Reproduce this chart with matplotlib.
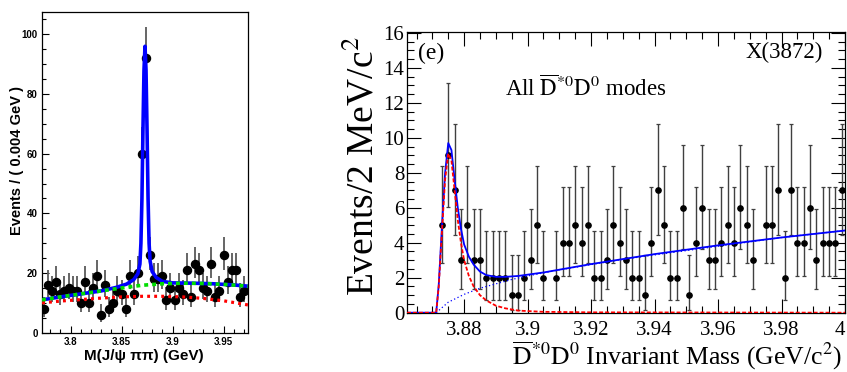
import numpy as np
import matplotlib
matplotlib.use("Agg")
import matplotlib.pyplot as plt
from matplotlib.ticker import MultipleLocator, FormatStrFormatter

plt.rcParams["mathtext.fontset"] = "stix"

# ---- left panel: M(J/psi pi pi), 4 MeV bins ----
jpp_lo = 3.772
jpp_bin = 0.004
jpp_counts = [8, 16, 14, 17, 13, 14, 15, 14, 14, 10,
              17, 10, 15, 19, 6, 16, 8, 10, 14, 13,
              8, 19, 13, 20, 60, 92, 26, 18, 18, 19,
              11, 15, 11, 15, 13, 21, 12, 23, 21, 15,
              14, 23, 12, 14, 26, 17, 21, 21, 12, 14]

jpp_tot_m = [3.772, 3.79, 3.81, 3.83, 3.845, 3.855, 3.862, 3.866, 3.868, 3.869,
             3.870, 3.871, 3.872, 3.873, 3.874, 3.875, 3.876, 3.877, 3.878, 3.880,
             3.884, 3.890, 3.90, 3.92, 3.94, 3.96, 3.974]
jpp_tot_v = [11.0, 12.0, 13.0, 14.0, 15.2, 16.3, 17.8, 19.8, 23, 30,
             45, 68, 88, 96, 88, 68, 45, 30, 24, 20.5,
             18.5, 17.2, 16.7, 16.6, 16.4, 16.0, 15.6]

jpp_bkg_m = [3.772, 3.79, 3.81, 3.83, 3.85, 3.87, 3.89, 3.91, 3.93, 3.95, 3.974]
jpp_bkg_v = [11.0, 12.0, 13.0, 14.0, 15.0, 15.9, 16.4, 16.6, 16.5, 16.2, 15.6]

jpp_bkg2_m = [3.772, 3.79, 3.81, 3.83, 3.85, 3.87, 3.89, 3.91, 3.93, 3.95, 3.974]
jpp_bkg2_v = [10.0, 10.6, 11.1, 11.6, 12.0, 12.2, 12.2, 12.0, 11.5, 10.7, 9.3]

# ---- right panel: D*0bar D0 mass, 2 MeV bins ----
dd_lo = 3.862
dd_bin = 0.002
dd_counts = [0, 0, 0, 0, 0, 5, 9, 7, 3, 5,
             3, 3, 2, 2, 2, 2, 1, 1, 2, 3,
             5, 2, 0, 2, 4, 4, 5, 4, 5, 2,
             2, 3, 5, 4, 3, 2, 2, 1, 4, 7,
             5, 2, 2, 6, 1, 4, 6, 3, 3, 4,
             5, 4, 6, 5, 3, 0, 5, 5, 7, 2,
             7, 4, 4, 6, 3, 4, 4, 4, 7]

dd_tot_m = [3.862, 3.8712, 3.872, 3.873, 3.874, 3.875, 3.876, 3.877, 3.878, 3.879,
            3.880, 3.8815, 3.883, 3.885, 3.887, 3.890, 3.893, 3.897, 3.905, 3.92,
            3.94, 3.96, 3.98, 4.0]
dd_tot_v = [0, 0, 1.6, 4.9, 8.0, 9.7, 9.3, 7.6, 6.0, 4.8,
            3.9, 3.2, 2.75, 2.35, 2.15, 2.05, 2.05, 2.1, 2.3, 2.78,
            3.35, 3.85, 4.3, 4.7]

dd_sig_m = [3.862, 3.8712, 3.872, 3.873, 3.874, 3.875, 3.876, 3.877, 3.878, 3.879,
            3.880, 3.8815, 3.883, 3.885, 3.887, 3.890, 3.893, 3.897, 3.905, 3.92, 4.0]
dd_sig_v = [0, 0, 1.5, 4.6, 7.6, 9.1, 8.7, 7.0, 5.3, 4.0,
            3.0, 2.1, 1.5, 1.0, 0.7, 0.4, 0.25, 0.12, 0.05, 0.02, 0.0]

dd_bkg_m = [3.8712, 3.875, 3.88, 3.885, 3.89, 3.895, 3.90, 3.91, 3.92, 3.93,
            3.94, 3.95, 3.96, 3.97, 3.98, 3.99, 4.0]
dd_bkg_v = [0, 0.6, 1.05, 1.4, 1.65, 1.9, 2.1, 2.45, 2.75, 3.05,
            3.3, 3.55, 3.8, 4.05, 4.3, 4.5, 4.7]


def poisson_err(n):
    # Gehrels approximation of the 68% Poisson interval
    n = np.asarray(n, dtype=float)
    hi = np.sqrt(n + 0.75) + 1.0
    lo = n - n * (1 - 1 / (9 * n) - 1 / (3 * np.sqrt(n))) ** 3
    return lo, hi


W, H = 847, 372
fig = plt.figure(figsize=(W / 100, H / 100), dpi=100)

# ================= left =================
ax1 = fig.add_axes([42 / W, 1 - 332.7 / H, 206 / W, (332.7 - 12) / H])
c1 = np.array(jpp_counts, dtype=float)
x1 = jpp_lo + jpp_bin * (np.arange(len(c1)) + 0.5)
lo1, hi1 = poisson_err(c1)
ax1.errorbar(x1, c1, yerr=[lo1, hi1], fmt="o", color="black", ms=5.8,
             ecolor="0.35", elinewidth=1.3, capsize=0, zorder=2)
ax1.plot(jpp_tot_m, jpp_tot_v, color="#0000ff", lw=2.6, zorder=3)
ax1.plot(jpp_bkg_m, jpp_bkg_v, color="#00dd00", lw=2.6,
         ls=(0, (1.1, 1.1)), dash_capstyle="butt", zorder=4)
ax1.plot(jpp_bkg2_m, jpp_bkg2_v, color="#ff0000", lw=2.3,
         ls=(0, (0.9, 1.3)), dash_capstyle="butt", zorder=3)
ax1.set_xlim(3.772, 3.974)
ax1.set_ylim(0, 107.5)
ax1.xaxis.set_major_locator(MultipleLocator(0.05))
ax1.xaxis.set_minor_locator(MultipleLocator(0.01))
ax1.xaxis.set_major_formatter(FormatStrFormatter("%g"))
ax1.yaxis.set_major_locator(MultipleLocator(20))
ax1.yaxis.set_minor_locator(MultipleLocator(5))
ax1.tick_params(which="both", direction="in", top=False, right=False,
                width=0.8, labelsize=7, pad=3)
ax1.tick_params(which="major", length=5)
ax1.tick_params(which="minor", length=3)
for lab in ax1.get_xticklabels() + ax1.get_yticklabels():
    lab.set_fontweight("bold")
    lab.set_family("Liberation Sans")
for s in ax1.spines.values():
    s.set_linewidth(0.9)

fig.text(17 / W, 1 - 160 / H, "Events / ( 0.004 GeV )", rotation=90,
         ha="center", va="center", fontsize=10.5, fontweight="bold",
         family="Liberation Sans")
fig.text(144 / W, 1 - 356 / H, "M(J/\u03c8 \u03c0\u03c0) (GeV)",
         ha="center", va="center", fontsize=11, fontweight="bold",
         family="Liberation Sans")

# ================= right =================
ax2 = fig.add_axes([407 / W, 1 - 312.7 / H, 438 / W, (312.7 - 32) / H])
c2 = np.array(dd_counts, dtype=float)
x2 = dd_lo + dd_bin * (np.arange(len(c2)) + 0.5)
nz = c2 > 0
lo2, hi2 = poisson_err(c2[nz])
ax2.errorbar(x2[nz], c2[nz], yerr=[lo2, hi2], fmt="o", color="black",
             ms=3.8, ecolor="0.25", elinewidth=1.0, capsize=1.6,
             capthick=0.9, zorder=2)
ax2.plot(dd_bkg_m, dd_bkg_v, color="#0000ff", lw=0.9,
         ls=(0, (1, 2)), zorder=3)
ax2.plot(dd_tot_m, dd_tot_v, color="#0000ff", lw=1.3, zorder=3)
ax2.plot(dd_sig_m, dd_sig_v, color="#ff0000", lw=1.3,
         ls=(0, (2.2, 1.1)), zorder=4)
ax2.set_xlim(3.862, 4.0)
ax2.set_ylim(0, 16.05)
ax2.xaxis.set_major_locator(MultipleLocator(0.02))
ax2.xaxis.set_minor_locator(MultipleLocator(0.005))
ax2.xaxis.set_major_formatter(FormatStrFormatter("%g"))
ax2.yaxis.set_major_locator(MultipleLocator(2))
ax2.yaxis.set_minor_locator(MultipleLocator(0.5))
ax2.tick_params(which="both", direction="in", top=True, right=True,
                width=0.8, labelsize=15)
ax2.tick_params(axis="x", pad=6)
ax2.tick_params(axis="y", pad=2)
ax2.tick_params(which="major", length=10)
ax2.tick_params(which="minor", length=5)
for s in ax2.spines.values():
    s.set_linewidth(0.9)

fig.canvas.draw()
for lab in ax2.get_xticklabels() + ax2.get_yticklabels():
    lab.set_family("Liberation Serif")
    if lab.get_text() == "4":
        lab.set_ha("right")

fig.text(418 / W, 1 - 53 / H, "(e)", ha="left", va="center",
         fontsize=17, family="Liberation Serif")
fig.text(823 / W, 1 - 52 / H, "X(3872)", ha="right", va="center",
         fontsize=16.5, family="Liberation Serif")
fig.text(505 / W, 1 - 88 / H, r"All $\overline{\rm D}^{*0}{\rm D}^{0}$ modes",
         ha="left", va="center", fontsize=16.5, family="Liberation Serif")

fig.text(363 / W, 1 - 166 / H, r"Events/2 MeV/c$^{2}$", rotation=90,
         ha="center", va="center", fontsize=27, family="Liberation Serif")
fig.text(842 / W, 1 - 356 / H,
         r"$\overline{\rm D}^{*0}{\rm D}^{0}$ Invariant Mass (GeV/c$^{2}$)",
         ha="right", va="center", fontsize=18.5, family="Liberation Serif")

fig.savefig("out.png", dpi=100)
